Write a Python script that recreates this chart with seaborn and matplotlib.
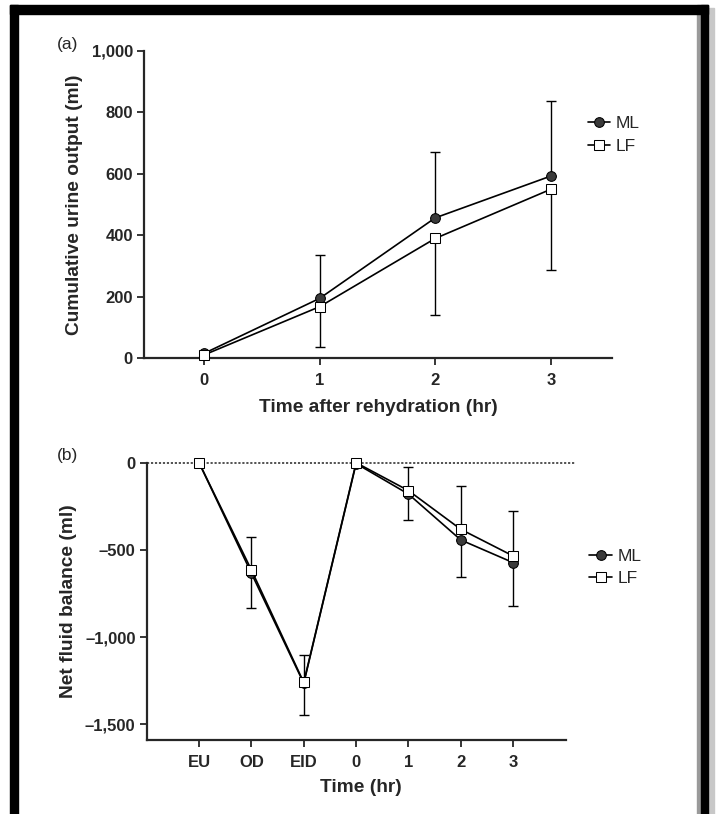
import matplotlib
matplotlib.use("Agg")
import matplotlib.pyplot as plt
import matplotlib.patches as mpatches
import seaborn as sns
import pandas as pd

# panel (a) cumulative urine output
hours_a = [0, 1, 2, 3]
ml_urine = [15, 194, 456, 592]
lf_urine = [10, 167, 389, 549]
ml_urine_err = [0, 141, 213, 245]   # drawn upward
lf_urine_err = [0, 130, 250, 263]   # drawn downward

# panel (b) net fluid balance
time_labels_b = ["EU", "OD", "EID", "0", "1", "2", "3"]
ml_balance = [0, -634, -1265, -5, -180, -443, -573]
lf_balance = [0, -615, -1260, 0, -160, -382, -535]
ml_balance_err = [0, 201, 184, 0, 149, 211, 249]   # downward
lf_balance_err = [0, 191, 157, 0, 133, 250, 260]   # upward

sns.set_theme(style="white")
plt.rcParams["font.family"] = ["Liberation Sans", "DejaVu Sans"]
plt.rcParams["axes.linewidth"] = 1.6

fig = plt.figure(figsize=(7.18, 8.14), dpi=100)
W, H = 718, 814

def ax_px(left, top, right, bottom):
    return fig.add_axes([left / W, 1 - bottom / H, (right - left) / W, (bottom - top) / H])

ml_style = dict(color="black", lw=1.2, marker="o", markersize=7,
                markerfacecolor="#3a3a3a", markeredgecolor="black")
lf_style = dict(color="black", lw=1.2, marker="s", markersize=6.5,
                markerfacecolor="white", markeredgecolor="black")

# ---------- panel a ----------
ax1 = ax_px(144, 50.7, 612, 358)
df_a = pd.DataFrame({"hr": hours_a, "ML": ml_urine, "LF": lf_urine})
ax1.errorbar(hours_a, ml_urine, yerr=[[0] * 4, ml_urine_err], fmt="none",
             ecolor="black", elinewidth=1.0, capsize=3.5, capthick=1.0, zorder=1)
ax1.errorbar(hours_a, lf_urine, yerr=[lf_urine_err, [0] * 4], fmt="none",
             ecolor="black", elinewidth=1.0, capsize=3.5, capthick=1.0, zorder=1)
sns.lineplot(data=df_a, x="hr", y="ML", ax=ax1, label="ML", clip_on=False, zorder=3, **ml_style)
sns.lineplot(data=df_a, x="hr", y="LF", ax=ax1, label="LF", clip_on=False, zorder=3, **lf_style)
ax1.set_xlim(-0.52, 3.53)
ax1.set_ylim(0, 1000)
ax1.set_xticks(hours_a)
ax1.set_xticklabels([str(h) for h in hours_a])
ax1.set_yticks([0, 200, 400, 600, 800, 1000])
ax1.set_yticklabels(["0", "200", "400", "600", "800", "1,000"])
ax1.set_xlabel("Time after rehydration (hr)", fontsize=13.8, fontweight="bold", labelpad=8)
ax1.set_ylabel("Cumulative urine output (ml)", fontsize=13.8, fontweight="bold", labelpad=6)
ax1.legend(loc="upper left", bbox_to_anchor=(0.915, 0.84), frameon=False, fontsize=12.5,
           handlelength=1.3, handletextpad=0.3, labelspacing=0.45)

# ---------- panel b ----------
xb = list(range(len(time_labels_b)))
ax2 = ax_px(146.7, 462.7, 576, 740)
df_b = pd.DataFrame({"t": xb, "ML": ml_balance, "LF": lf_balance})
ax2.axhline(0, color="#444444", lw=1.3, ls=(0, (1.2, 1.0)), zorder=0, clip_on=False)
ax2.errorbar(xb, ml_balance, yerr=[ml_balance_err, [0] * 7], fmt="none",
             ecolor="black", elinewidth=1.0, capsize=3.5, capthick=1.0, zorder=1)
ax2.errorbar(xb, lf_balance, yerr=[[0] * 7, lf_balance_err], fmt="none",
             ecolor="black", elinewidth=1.0, capsize=3.5, capthick=1.0, zorder=1)
sns.lineplot(data=df_b, x="t", y="ML", ax=ax2, label="ML", clip_on=False, zorder=3, **ml_style)
sns.lineplot(data=df_b, x="t", y="LF", ax=ax2, label="LF", clip_on=False, zorder=3, **lf_style)
ax2.set_xlim(-1, 7.2)
ax2.set_ylim(-1590, 0)
ax2.spines["bottom"].set_bounds(-1, 7.0)
ax2.set_xticks(xb)
ax2.set_xticklabels(time_labels_b)
ax2.set_yticks([0, -500, -1000, -1500])
ax2.set_yticklabels(["0", "\u2013500", "\u20131,000", "\u20131,500"])
ax2.set_xlabel("Time (hr)", fontsize=13.8, fontweight="bold", labelpad=6)
ax2.set_ylabel("Net fluid balance (ml)", fontsize=13.8, fontweight="bold", labelpad=6)
ax2.legend(loc="upper left", bbox_to_anchor=(0.995, 0.745), frameon=False, fontsize=12.5,
           handlelength=1.3, handletextpad=0.3, labelspacing=0.4)

for ax in (ax1, ax2):
    sns.despine(ax=ax)
    ax.tick_params(axis="both", direction="out", length=5, width=1.3, labelsize=12,
                   bottom=True, left=True, pad=3)
    ax.tick_params(axis="x", pad=6)
    for lab in ax.get_xticklabels() + ax.get_yticklabels():
        lab.set_fontweight("bold")

fig.text(68 / W, 1 - 45 / H, "(a)", fontsize=12.5, ha="center", va="center")
fig.text(68 / W, 1 - 455 / H, "(b)", fontsize=12.5, ha="center", va="center")

# scanned frame around the figure (open at the bottom)
fig.patches.append(mpatches.Rectangle((697 / W, 0), 4 / W, 1 - 5 / H, transform=fig.transFigure,
                                      color="#9a9a9a", zorder=5))
fig.patches.append(mpatches.Rectangle((708 / W, 0), 6 / W, 1 - 8 / H, transform=fig.transFigure,
                                      color="#c8c8c8", zorder=5))
fig.patches.append(mpatches.Rectangle((10 / W, 0), 8 / W, 1 - 5 / H, transform=fig.transFigure,
                                      color="black", zorder=6))
fig.patches.append(mpatches.Rectangle((701 / W, 0), 7 / W, 1 - 5 / H, transform=fig.transFigure,
                                      color="black", zorder=6))
fig.patches.append(mpatches.Rectangle((10 / W, 1 - 14 / H), 698 / W, 9 / H, transform=fig.transFigure,
                                      color="black", zorder=6))

fig.savefig("out.png", dpi=100)
